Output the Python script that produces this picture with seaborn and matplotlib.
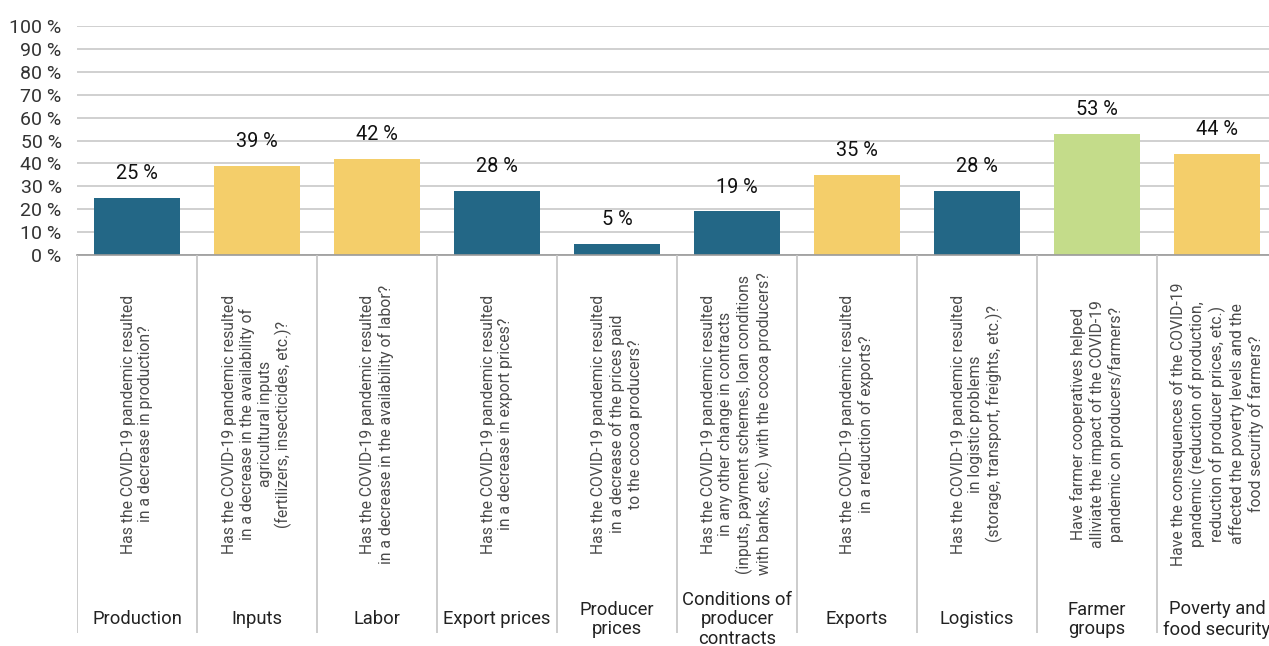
import matplotlib
matplotlib.use("Agg")
import matplotlib.pyplot as plt
import seaborn as sns
import pandas as pd

sns.set_theme(style="white")
plt.rcParams["font.family"] = ["Roboto", "DejaVu Sans"]

categories = ["Production", "Inputs", "Labor", "Export prices", "Producer\nprices",
              "Conditions of\nproducer\ncontracts", "Exports", "Logistics",
              "Farmer\ngroups", "Poverty and\nfood security"]
values = [25, 39, 42, 28, 5, 19, 35, 28, 53, 44]
groups = ["blue", "yellow", "yellow", "blue", "blue", "blue", "yellow", "blue", "green", "yellow"]
questions = [
    "Has the COVID-19 pandemic resulted\nin a decrease in production?",
    "Has the COVID-19 pandemic resulted\nin a decrease in the availability of\nagricultural inputs\n(fertilizers, insecticides, etc.)?",
    "Has the COVID-19 pandemic resulted\nin a decrease in the availability of labor?",
    "Has the COVID-19 pandemic resulted\nin a decrease in export prices?",
    "Has the COVID-19 pandemic resulted\nin a decrease of the prices paid\nto the cocoa producers?",
    "Has the COVID-19 pandemic resulted\nin any other change in contracts\n(inputs, payment schemes, loan conditions\nwith banks, etc.) with the cocoa producers?",
    "Has the COVID-19 pandemic resulted\nin a reduction of exports?",
    "Has the COVID-19 pandemic resulted\nin logistic problems\n(storage, transport, freights, etc.)?",
    "Have farmer cooperatives helped\nalliviate the impact of the COVID-19\npandemic on producers/farmers?",
    "Have the consequences of the COVID-19\npandemic (reduction of production,\nreduction of producer prices, etc.)\naffected the poverty levels and the\nfood security of farmers?",
]
y_ticks = [0, 10, 20, 30, 40, 50, 60, 70, 80, 90, 100]
y_tick_labels = [f"{t} %" for t in y_ticks]

palette = {"blue": "#236786", "yellow": "#F4CE6A", "green": "#C4DC8A"}

df = pd.DataFrame({"category": categories, "value": values, "group": groups})

W, H = 1269, 646
fig = plt.figure(figsize=(W / 100, H / 100), dpi=100)
left = 77 / W
width = 1200 / W
ax = fig.add_axes([left, (H - 255) / H, width, 229 / H])
axb = fig.add_axes([left, (H - 633) / H, width, 378 / H])

sns.barplot(data=df, x="category", y="value", hue="group", palette=palette,
            order=categories, width=0.71, dodge=False, legend=False, ax=ax,
            saturation=1, linewidth=0, edgecolor="none")

ax.set_xlim(-0.5, len(categories) - 0.5)
ax.set_ylim(0, 100)
ax.set_yticks(y_ticks)
ax.set_yticklabels(y_tick_labels, fontsize=14, color="#333333")
ax.tick_params(axis="y", length=0, pad=11)
ax.set_xticks([])
ax.set_xlabel("")
ax.set_ylabel("")
ax.grid(axis="y", color="#c4c4c4", linewidth=1.1)
ax.set_axisbelow(True)
for s in ["top", "right", "left"]:
    ax.spines[s].set_visible(False)
ax.spines["bottom"].set_color("#9a9a9a")
ax.spines["bottom"].set_linewidth(1.2)

for i, v in enumerate(values):
    ax.annotate(f"{v} %", xy=(i, v), xytext=(0, 17.5), textcoords="offset points",
                ha="center", va="center", fontsize=14.3, color="#111111")

# Table of questions beneath the bars
axb.set_xlim(-0.5, len(categories) - 0.5)
axb.set_ylim(0, 378)
axb.axis("off")
for i in range(len(categories) + 1):
    axb.axvline(i - 0.5, color="#c4c4c4", linewidth=1.2)
for i, (cat, q) in enumerate(zip(categories, questions)):
    axb.text(i, 378 - (424 - 255), q, rotation=90, ha="center", va="center",
             multialignment="center", fontsize=11.3, color="#4a4a4a",
             fontweight="normal", linespacing=1.2)
    axb.text(i, 378 - (619.5 - 255), cat, ha="center", va="center",
             multialignment="center", fontsize=13.2, color="#222222",
             linespacing=1.14, clip_on=False)

fig.savefig("out.png", dpi=100)
